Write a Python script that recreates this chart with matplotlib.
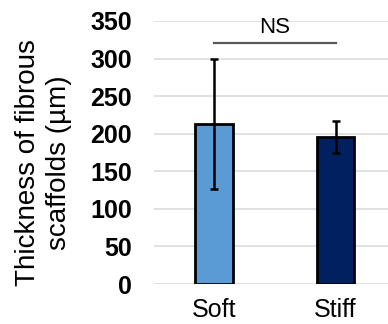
import matplotlib.pyplot as plt

plt.rcParams['font.family'] = ['Liberation Sans', 'DejaVu Sans']

groups = ['Soft', 'Stiff']
thickness = [213, 196]
errors = [86, 21.5]
colors = ['#5b9bd5', '#002060']
yticks = [0, 50, 100, 150, 200, 250, 300, 350]
ns_height = 321

fig = plt.figure(figsize=(3.88, 3.24), dpi=100)
ax = fig.add_axes([154 / 388, 1 - 284 / 324, 234 / 388, 263 / 324])

x = list(range(len(groups)))
ax.bar(x, thickness, width=0.31, color=colors, edgecolor='black',
       linewidth=2.0, zorder=3)
ax.errorbar(x, thickness, yerr=errors, fmt='none', ecolor='black',
            elinewidth=1.8, capsize=2.8, capthick=1.8, zorder=4)

# significance bar
ax.plot([0, 1], [ns_height, ns_height], color='#595959', lw=1.6,
        clip_on=False, zorder=4)
ax.text(0.5, ns_height + 6, 'NS', ha='center', va='bottom', fontsize=16,
        clip_on=False)

ax.set_xlim(-0.494, 1.432)
ax.set_ylim(0, 350)
ax.set_yticks(yticks)
ax.set_xticks(x)
ax.set_xticklabels(groups, fontsize=18)
ax.tick_params(axis='y', labelsize=18, length=0, pad=16)
ax.tick_params(axis='x', length=0, pad=10)
for lab in ax.get_yticklabels():
    lab.set_fontweight('bold')

ax.grid(axis='y', color='#d9d9d9', lw=1.1, zorder=0)
for s in ax.spines.values():
    s.set_visible(False)

ax.set_ylabel('Thickness of fibrous\nscaffolds (µm)', fontsize=20,
              linespacing=1.25)
ax.yaxis.set_label_coords(-0.35, 0.462)

fig.savefig('out.png', dpi=100)
